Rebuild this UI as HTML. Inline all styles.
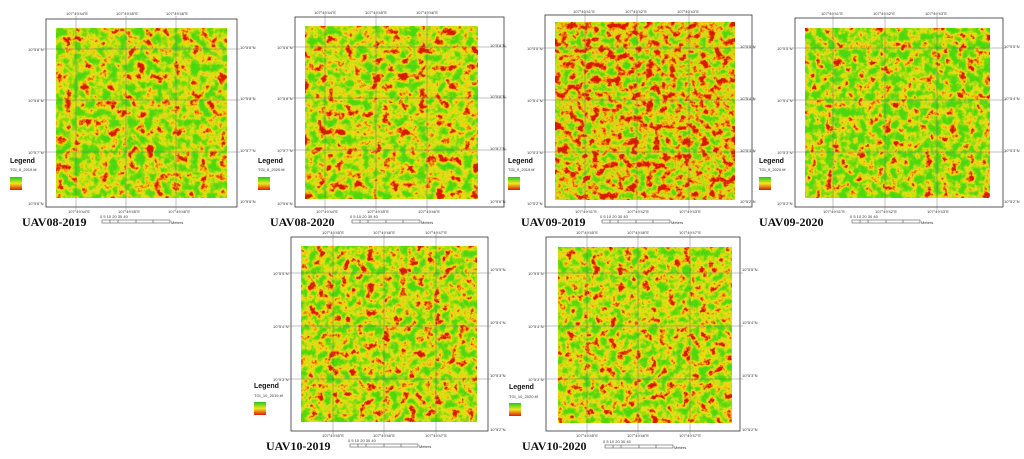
<!DOCTYPE html>
<html><head><meta charset="utf-8"><style>
html,body{margin:0;padding:0;background:#fff;}
svg{display:block;font-family:"Liberation Sans",sans-serif;}
.t{font-family:"Liberation Serif",serif;font-weight:bold;font-size:12px;fill:#111;}
.s{font-size:4px;fill:#333;}
.lg{font-size:7px;font-weight:bold;fill:#111;}
</style></head><body>
<svg width="1024" height="459" viewBox="0 0 1024 459" xmlns="http://www.w3.org/2000/svg">
<defs>
<linearGradient id="lgd" x1="0" y1="0" x2="0" y2="1">
<stop offset="0" stop-color="#22c81e"/><stop offset="0.5" stop-color="#f0e81e"/><stop offset="1" stop-color="#e01a0a"/>
</linearGradient>
<filter id="f1" x="0" y="0" width="1" height="1" color-interpolation-filters="sRGB">
<feTurbulence type="fractalNoise" baseFrequency="0.11" numOctaves="4" seed="3"/>
<feColorMatrix type="matrix" values="2.2 0 0 0 -0.55  2.2 0 0 0 -0.55  2.2 0 0 0 -0.55  0 0 0 0 1"/>
<feComponentTransfer><feFuncR type="table" tableValues="0.85 0.92 0.95 0.9 0.75 0.55 0.4 0.3"/><feFuncG type="table" tableValues="0.1 0.45 0.8 0.88 0.88 0.86 0.85 0.85"/><feFuncB type="table" tableValues="0 0.02 0.08 0.08 0.06 0.06 0.06 0.06"/></feComponentTransfer>
</filter>
<filter id="f2" x="0" y="0" width="1" height="1" color-interpolation-filters="sRGB">
<feTurbulence type="fractalNoise" baseFrequency="0.11" numOctaves="4" seed="11"/>
<feColorMatrix type="matrix" values="2.2 0 0 0 -0.6  2.2 0 0 0 -0.6  2.2 0 0 0 -0.6  0 0 0 0 1"/>
<feComponentTransfer><feFuncR type="table" tableValues="0.85 0.92 0.95 0.9 0.75 0.55 0.4 0.3"/><feFuncG type="table" tableValues="0.1 0.45 0.8 0.88 0.88 0.86 0.85 0.85"/><feFuncB type="table" tableValues="0 0.02 0.08 0.08 0.06 0.06 0.06 0.06"/></feComponentTransfer>
</filter>
<filter id="f3" x="0" y="0" width="1" height="1" color-interpolation-filters="sRGB">
<feTurbulence type="fractalNoise" baseFrequency="0.13" numOctaves="4" seed="27"/>
<feColorMatrix type="matrix" values="2.2 0 0 0 -0.7  2.2 0 0 0 -0.7  2.2 0 0 0 -0.7  0 0 0 0 1"/>
<feComponentTransfer><feFuncR type="table" tableValues="0.85 0.92 0.95 0.9 0.75 0.55 0.4 0.3"/><feFuncG type="table" tableValues="0.1 0.4 0.7 0.85 0.88 0.86 0.85 0.85"/><feFuncB type="table" tableValues="0 0.02 0.06 0.08 0.06 0.06 0.06 0.06"/></feComponentTransfer>
</filter>
<filter id="f4" x="0" y="0" width="1" height="1" color-interpolation-filters="sRGB">
<feTurbulence type="fractalNoise" baseFrequency="0.12" numOctaves="4" seed="41"/>
<feColorMatrix type="matrix" values="2.2 0 0 0 -0.5  2.2 0 0 0 -0.5  2.2 0 0 0 -0.5  0 0 0 0 1"/>
<feComponentTransfer><feFuncR type="table" tableValues="0.85 0.92 0.95 0.9 0.75 0.55 0.4 0.3"/><feFuncG type="table" tableValues="0.1 0.45 0.8 0.88 0.88 0.86 0.85 0.85"/><feFuncB type="table" tableValues="0 0.02 0.08 0.08 0.06 0.06 0.06 0.06"/></feComponentTransfer>
</filter>
<filter id="f5" x="0" y="0" width="1" height="1" color-interpolation-filters="sRGB">
<feTurbulence type="fractalNoise" baseFrequency="0.12" numOctaves="4" seed="57"/>
<feColorMatrix type="matrix" values="2.2 0 0 0 -0.58  2.2 0 0 0 -0.58  2.2 0 0 0 -0.58  0 0 0 0 1"/>
<feComponentTransfer><feFuncR type="table" tableValues="0.85 0.92 0.95 0.9 0.75 0.55 0.4 0.3"/><feFuncG type="table" tableValues="0.1 0.45 0.8 0.88 0.88 0.86 0.85 0.85"/><feFuncB type="table" tableValues="0 0.02 0.08 0.08 0.06 0.06 0.06 0.06"/></feComponentTransfer>
</filter>
<filter id="f6" x="0" y="0" width="1" height="1" color-interpolation-filters="sRGB">
<feTurbulence type="fractalNoise" baseFrequency="0.12" numOctaves="4" seed="73"/>
<feColorMatrix type="matrix" values="2.2 0 0 0 -0.58  2.2 0 0 0 -0.58  2.2 0 0 0 -0.58  0 0 0 0 1"/>
<feComponentTransfer><feFuncR type="table" tableValues="0.85 0.92 0.95 0.9 0.75 0.55 0.4 0.3"/><feFuncG type="table" tableValues="0.1 0.45 0.8 0.88 0.88 0.86 0.85 0.85"/><feFuncB type="table" tableValues="0 0.02 0.08 0.08 0.06 0.06 0.06 0.06"/></feComponentTransfer>
</filter>
</defs>

<!-- Panel 1 -->
<rect x="46" y="19" width="191" height="188" fill="none" stroke="#333" stroke-width="0.8"/>
<rect x="56" y="28" width="171" height="170" filter="url(#f1)"/>
<g stroke="#666" stroke-width="0.4"><line x1="76" y1="16" x2="76" y2="210"/><line x1="126" y1="16" x2="126" y2="210"/><line x1="176" y1="16" x2="176" y2="210"/><line x1="43" y1="49" x2="240" y2="49"/><line x1="43" y1="100" x2="240" y2="100"/><line x1="43" y1="152" x2="240" y2="152"/></g>
<text class="s" x="66" y="15">107°49'44"E</text><text class="s" x="116" y="15">107°49'45"E</text><text class="s" x="166" y="15">107°49'46"E</text>
<text class="s" x="28" y="51">10°5'8"N</text><text class="s" x="28" y="102">10°5'8"N</text><text class="s" x="28" y="154">10°5'7"N</text><text class="s" x="28" y="205">10°5'6"N</text>
<text class="s" x="240" y="49">10°5'8"N</text><text class="s" x="240" y="100">10°5'8"N</text><text class="s" x="240" y="152">10°5'7"N</text><text class="s" x="240" y="203">10°5'6"N</text>
<text class="s" x="68" y="213">107°49'44"E</text><text class="s" x="118" y="213">107°49'45"E</text><text class="s" x="168" y="213">107°49'46"E</text>
<text class="lg" x="10" y="163">Legend</text><text class="s" x="10" y="171">TGI_8_2019.tif</text><rect x="10" y="177" width="12" height="13" fill="url(#lgd)"/>
<text class="t" x="22" y="226">UAV08-2019</text>
<g stroke="#333" stroke-width="0.5" fill="none"><rect x="102" y="220" width="68" height="3"/><line x1="110" y1="220" x2="110" y2="223"/><line x1="118" y1="220" x2="118" y2="223"/><line x1="136" y1="220" x2="136" y2="223"/><line x1="153" y1="220" x2="153" y2="223"/></g>
<text class="s" x="100" y="218">0  5 10    20    30    40</text><text class="s" x="171" y="224">Meters</text>

<!-- Panel 2 -->
<rect x="295" y="17" width="209" height="190" fill="none" stroke="#333" stroke-width="0.8"/>
<rect x="305" y="26" width="173" height="173" filter="url(#f2)"/>
<g stroke="#666" stroke-width="0.4"><line x1="325" y1="14" x2="325" y2="210"/><line x1="376" y1="14" x2="376" y2="210"/><line x1="427" y1="14" x2="427" y2="210"/><line x1="292" y1="47" x2="507" y2="47"/><line x1="292" y1="98" x2="507" y2="98"/><line x1="292" y1="150" x2="507" y2="150"/></g>
<text class="s" x="314" y="14">107°49'44"E</text><text class="s" x="365" y="14">107°49'45"E</text><text class="s" x="416" y="14">107°49'46"E</text>
<text class="s" x="277" y="49">10°5'8"N</text><text class="s" x="277" y="100">10°5'8"N</text><text class="s" x="277" y="152">10°5'7"N</text><text class="s" x="277" y="205">10°5'6"N</text>
<text class="s" x="490" y="47">10°5'8"N</text><text class="s" x="490" y="98">10°5'8"N</text><text class="s" x="490" y="150">10°5'7"N</text><text class="s" x="490" y="203">10°5'6"N</text>
<text class="s" x="316" y="213">107°49'44"E</text><text class="s" x="367" y="213">107°49'45"E</text><text class="s" x="418" y="213">107°49'46"E</text>
<text class="lg" x="258" y="163">Legend</text><text class="s" x="258" y="171">TGI_8_2020.tif</text><rect x="258" y="177" width="12" height="13" fill="url(#lgd)"/>
<text class="t" x="270" y="226">UAV08-2020</text>
<g stroke="#333" stroke-width="0.5" fill="none"><rect x="352" y="220" width="68" height="3"/><line x1="360" y1="220" x2="360" y2="223"/><line x1="368" y1="220" x2="368" y2="223"/><line x1="386" y1="220" x2="386" y2="223"/><line x1="403" y1="220" x2="403" y2="223"/></g>
<text class="s" x="350" y="218">0  5 10    20    30    40</text><text class="s" x="421" y="224">Meters</text>

<!-- Panel 3 -->
<rect x="545" y="15" width="207" height="192" fill="none" stroke="#333" stroke-width="0.8"/>
<rect x="555" y="22" width="180" height="178" filter="url(#f3)"/>
<g stroke="#666" stroke-width="0.4"><line x1="585" y1="12" x2="585" y2="210"/><line x1="637" y1="12" x2="637" y2="210"/><line x1="689" y1="12" x2="689" y2="210"/><line x1="542" y1="48" x2="755" y2="48"/><line x1="542" y1="100" x2="755" y2="100"/><line x1="542" y1="152" x2="755" y2="152"/></g>
<text class="s" x="573" y="13">107°49'41"E</text><text class="s" x="625" y="13">107°49'42"E</text><text class="s" x="677" y="13">107°49'43"E</text>
<text class="s" x="527" y="50">10°5'5"N</text><text class="s" x="527" y="102">10°5'4"N</text><text class="s" x="527" y="154">10°5'3"N</text><text class="s" x="527" y="205">10°5'2"N</text>
<text class="s" x="740" y="48">10°5'5"N</text><text class="s" x="740" y="100">10°5'4"N</text><text class="s" x="740" y="152">10°5'3"N</text><text class="s" x="740" y="203">10°5'2"N</text>
<text class="s" x="575" y="213">107°49'41"E</text><text class="s" x="627" y="213">107°49'42"E</text><text class="s" x="679" y="213">107°49'43"E</text>
<text class="lg" x="508" y="163">Legend</text><text class="s" x="508" y="171">TGI_9_2019.tif</text><rect x="508" y="177" width="12" height="13" fill="url(#lgd)"/>
<text class="t" x="521" y="226">UAV09-2019</text>
<g stroke="#333" stroke-width="0.5" fill="none"><rect x="602" y="220" width="68" height="3"/><line x1="610" y1="220" x2="610" y2="223"/><line x1="618" y1="220" x2="618" y2="223"/><line x1="636" y1="220" x2="636" y2="223"/><line x1="653" y1="220" x2="653" y2="223"/></g>
<text class="s" x="600" y="218">0  5 10    20    30    40</text><text class="s" x="671" y="224">Meters</text>

<!-- Panel 4 -->
<rect x="795" y="18" width="208" height="189" fill="none" stroke="#333" stroke-width="0.8"/>
<rect x="805" y="28" width="185" height="170" filter="url(#f4)"/>
<g stroke="#666" stroke-width="0.4"><line x1="833" y1="15" x2="833" y2="210"/><line x1="885" y1="15" x2="885" y2="210"/><line x1="937" y1="15" x2="937" y2="210"/><line x1="792" y1="48" x2="1006" y2="48"/><line x1="792" y1="100" x2="1006" y2="100"/><line x1="792" y1="152" x2="1006" y2="152"/></g>
<text class="s" x="821" y="15">107°49'41"E</text><text class="s" x="873" y="15">107°49'42"E</text><text class="s" x="925" y="15">107°49'43"E</text>
<text class="s" x="777" y="50">10°5'5"N</text><text class="s" x="777" y="102">10°5'4"N</text><text class="s" x="777" y="154">10°5'3"N</text><text class="s" x="777" y="205">10°5'2"N</text>
<text class="s" x="1004" y="48">10°5'5"N</text><text class="s" x="1004" y="100">10°5'4"N</text><text class="s" x="1004" y="152">10°5'3"N</text><text class="s" x="1004" y="203">10°5'2"N</text>
<text class="s" x="823" y="213">107°49'41"E</text><text class="s" x="875" y="213">107°49'42"E</text><text class="s" x="927" y="213">107°49'43"E</text>
<text class="lg" x="759" y="163">Legend</text><text class="s" x="759" y="171">TGI_9_2020.tif</text><rect x="759" y="177" width="12" height="13" fill="url(#lgd)"/>
<text class="t" x="759" y="226">UAV09-2020</text>
<g stroke="#333" stroke-width="0.5" fill="none"><rect x="852" y="220" width="68" height="3"/><line x1="860" y1="220" x2="860" y2="223"/><line x1="868" y1="220" x2="868" y2="223"/><line x1="886" y1="220" x2="886" y2="223"/><line x1="903" y1="220" x2="903" y2="223"/></g>
<text class="s" x="850" y="218">0  5 10    20    30    40</text><text class="s" x="921" y="224">Meters</text>

<!-- Panel 5 -->
<rect x="291" y="237" width="197" height="194" fill="none" stroke="#333" stroke-width="0.8"/>
<rect x="301" y="246" width="176" height="176" filter="url(#f5)"/>
<g stroke="#666" stroke-width="0.4"><line x1="333" y1="234" x2="333" y2="434"/><line x1="384" y1="234" x2="384" y2="434"/><line x1="436" y1="234" x2="436" y2="434"/><line x1="288" y1="273" x2="491" y2="273"/><line x1="288" y1="326" x2="491" y2="326"/><line x1="288" y1="379" x2="491" y2="379"/></g>
<text class="s" x="322" y="234">107°49'45"E</text><text class="s" x="373" y="234">107°49'46"E</text><text class="s" x="425" y="234">107°49'47"E</text>
<text class="s" x="273" y="275">10°5'5"N</text><text class="s" x="273" y="328">10°5'4"N</text><text class="s" x="273" y="381">10°5'3"N</text>
<text class="s" x="490" y="271">10°5'5"N</text><text class="s" x="490" y="324">10°5'4"N</text><text class="s" x="490" y="377">10°5'3"N</text><text class="s" x="490" y="431">10°5'2"N</text>
<text class="s" x="322" y="437">107°49'45"E</text><text class="s" x="373" y="437">107°49'46"E</text><text class="s" x="425" y="437">107°49'47"E</text>
<text class="lg" x="254" y="388">Legend</text><text class="s" x="254" y="397">TGI_10_2019.tif</text><rect x="254" y="402" width="12" height="13" fill="url(#lgd)"/>
<text class="t" x="266" y="450">UAV10-2019</text>
<g stroke="#333" stroke-width="0.5" fill="none"><rect x="350" y="444" width="68" height="3"/><line x1="358" y1="444" x2="358" y2="447"/><line x1="366" y1="444" x2="366" y2="447"/><line x1="384" y1="444" x2="384" y2="447"/><line x1="401" y1="444" x2="401" y2="447"/></g>
<text class="s" x="348" y="442">0  5 10    20    30    40</text><text class="s" x="419" y="448">Meters</text>

<!-- Panel 6 -->
<rect x="546" y="237" width="194" height="194" fill="none" stroke="#333" stroke-width="0.8"/>
<rect x="558" y="247" width="174" height="176" filter="url(#f6)"/>
<g stroke="#666" stroke-width="0.4"><line x1="587" y1="234" x2="587" y2="434"/><line x1="638" y1="234" x2="638" y2="434"/><line x1="690" y1="234" x2="690" y2="434"/><line x1="543" y1="273" x2="743" y2="273"/><line x1="543" y1="326" x2="743" y2="326"/><line x1="543" y1="379" x2="743" y2="379"/></g>
<text class="s" x="576" y="234">107°49'45"E</text><text class="s" x="627" y="234">107°49'46"E</text><text class="s" x="679" y="234">107°49'47"E</text>
<text class="s" x="528" y="275">10°5'5"N</text><text class="s" x="528" y="328">10°5'4"N</text><text class="s" x="528" y="381">10°5'3"N</text>
<text class="s" x="742" y="271">10°5'5"N</text><text class="s" x="742" y="324">10°5'4"N</text><text class="s" x="742" y="377">10°5'3"N</text><text class="s" x="742" y="431">10°5'2"N</text>
<text class="s" x="576" y="437">107°49'45"E</text><text class="s" x="627" y="437">107°49'46"E</text><text class="s" x="679" y="437">107°49'47"E</text>
<text class="lg" x="509" y="389">Legend</text><text class="s" x="509" y="398">TGI_10_2020.tif</text><rect x="509" y="403" width="12" height="13" fill="url(#lgd)"/>
<text class="t" x="522" y="450">UAV10-2020</text>
<g stroke="#333" stroke-width="0.5" fill="none"><rect x="605" y="445" width="68" height="3"/><line x1="613" y1="445" x2="613" y2="448"/><line x1="621" y1="445" x2="621" y2="448"/><line x1="639" y1="445" x2="639" y2="448"/><line x1="656" y1="445" x2="656" y2="448"/></g>
<text class="s" x="603" y="443">0  5 10    20    30    40</text><text class="s" x="674" y="449">Meters</text>
</svg>
</body></html>
